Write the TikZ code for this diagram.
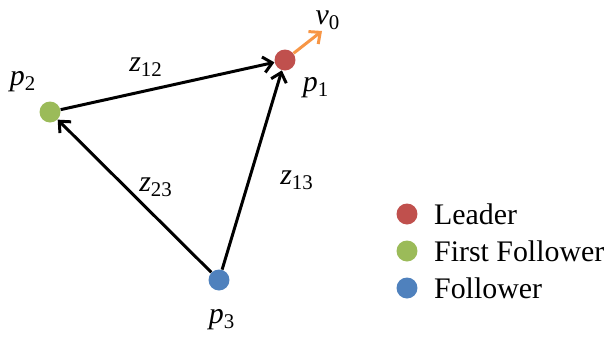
\documentclass[tikz,border=0pt]{standalone}
\usepackage{fontspec}
\setmainfont{Liberation Serif}
\usetikzlibrary{arrows.meta}
\definecolor{leadred}{HTML}{C0504D}
\definecolor{firstgreen}{HTML}{9BBB59}
\definecolor{follblue}{HTML}{4F81BD}
\definecolor{velorange}{HTML}{F79646}
\newcommand{\sub}[2]{\textit{#1}\textsubscript{#2}}
\begin{document}
\begin{tikzpicture}[x=0.02cm, y=-0.02cm, every node/.style={font=\fontsize{17}{20}\selectfont},
  agent/.style={circle, inner sep=0pt, minimum size=0.42cm},
  link/.style={line width=1.7pt, -{Straight Barb[length=5pt,width=9pt,line width=1.7pt]}}]
\useasboundingbox (0,0) rectangle (613,339);
\node[agent, fill=leadred] (p1) at (285,60) {};
\node[agent, fill=firstgreen] (p2) at (50,112) {};
\node[agent, fill=follblue] (p3) at (219,280) {};
\coordinate (v) at (322,31);
\draw[link] (p2)--(p1);
\draw[link] (p3)--(p1);
\draw[link] (p3)--(p2);
\draw[link, velorange] (p1)--(v);
\node (v0) at (328,20) {\sub{v}{0}};
\node (p1l) at (316,88) {\sub{p}{1}};
\node (p2l) at (23,82) {\sub{p}{2}};
\node (p3l) at (222,320) {\sub{p}{3}};
\node (z12) at (146,67) {\sub{z}{12}};
\node (z23) at (156,187) {\sub{z}{23}};
\node (z13) at (297,180) {\sub{z}{13}};

% legend
\node[agent, fill=leadred] (lg1) at (407,214) {};
\node[agent, fill=firstgreen] (lg2) at (407,251) {};
\node[agent, fill=follblue] (lg3) at (407,288) {};
\node[anchor=west] (t1) at (428,214) {Leader};
\node[anchor=west] (t2) at (428,251) {First Follower};
\node[anchor=west] (t3) at (428,288) {Follower};
\end{tikzpicture}
\end{document}
